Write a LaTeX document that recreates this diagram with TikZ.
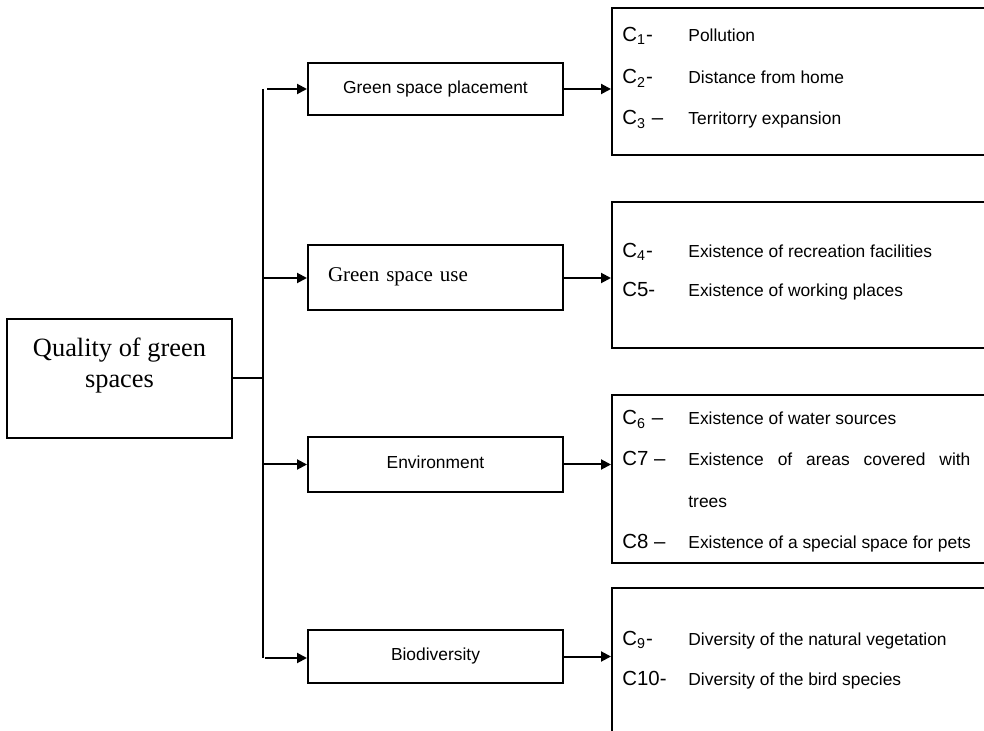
\documentclass[tikz,border=0pt]{standalone}
\usepackage{fontspec}
\setmainfont{Liberation Serif}
\setsansfont{Liberation Sans}
\usepackage{tikz}
\usetikzlibrary{arrows.meta, positioning}

\begin{document}
\begin{tikzpicture}[
    x=0.5pt, y=-0.5pt,
    rootbox/.style={draw,line width=1pt,minimum width=112.5pt,minimum height=59.5pt,
      align=center,font=\fontsize{13.2}{15.5}\selectfont},
    midbox/.style={draw,line width=1pt,minimum width=127.5pt,
      font=\sffamily\fontsize{8.7}{10.4}\selectfont},
    listbox/.style={draw,line width=1pt,anchor=north west,minimum width=190pt},
    item/.style={anchor=base west,inner sep=0pt,font=\sffamily\fontsize{8.7}{10.4}\selectfont},
    clabel/.style={item,font=\sffamily\fontsize{10.2}{12}\selectfont},
    link/.style={line width=1pt},
    arrow/.style={-{Triangle[length=5pt,width=5pt]},line width=1pt}
  ]
  \useasboundingbox (0,0) rectangle (984,731);
  \clip (0,0) rectangle (984,731);

  % Root
  \node[rootbox] (root) at (119.5,378.5) {Quality of green\\spaces\\\mbox{}};

  % Criteria
  \node[midbox,minimum height=26pt] (place) at (435.5,89) {Green space placement};
  \node[midbox,minimum height=32.5pt,text width=107.5pt,inner xsep=10pt,align=left,
    font=\fontsize{10.5}{12.5}\selectfont] (use) at (435.5,278) {\raisebox{3pt}{Green space use}};
  \node[midbox,minimum height=27.5pt] (env) at (435.5,464.5) {\raisebox{2pt}{Environment}};
  \node[midbox,minimum height=26.5pt] (bio) at (435.5,656.5) {\raisebox{2pt}{Biodiversity}};

  % Sub-criteria boxes
  \node[listbox,minimum height=73.5pt] (lplace) at (611,7) {};
  \node[listbox,minimum height=73pt] (luse) at (611,201) {};
  \node[listbox,minimum height=84pt] (lenv) at (611,394) {};
  \node[listbox,minimum height=80pt] (lbio) at (611,587) {};

  % Trunk
  \coordinate (ttop) at (263,89);
  \coordinate (tbot) at (263,658);
  \draw[link] (ttop) -- (tbot);
  \draw[link] (root.east) -- (ttop |- root.east);

  \draw[arrow] ([xshift=2pt]ttop) -- (place.west);
  \draw[arrow] (ttop |- use.west) -- (use.west);
  \draw[arrow] (ttop |- env.west) -- (env.west);
  \draw[arrow] ([xshift=1pt]tbot) -- (bio.west |- tbot);

  \draw[arrow] (place.east) -- (lplace.west |- place.east);
  \draw[arrow] (use.east) -- (luse.west |- use.east);
  \draw[arrow] (env.east) -- (lenv.west |- env.east);
  \draw[arrow] (bio.east) -- (lbio.west |- bio.east);

  % C1 - C3
  \node[clabel] (c1) at (622,42) {C\textsubscript{1}-};
  \node[item] (t1) at (688,42) {Pollution};
  \node[clabel] (c2) at (622,84) {C\textsubscript{2}-};
  \node[item] (t2) at (688,84) {Distance from home};
  \node[clabel] (c3) at (622,125) {C\textsubscript{3} –};
  \node[item] (t3) at (688,125) {Territorry expansion};

  % C4 - C5
  \node[clabel] (c4) at (622,258) {C\textsubscript{4}-};
  \node[item] (t4) at (688,258) {Existence of recreation facilities};
  \node[clabel] (c5) at (622,297) {C5-};
  \node[item] (t5) at (688,297) {Existence of working places};

  % C6 - C8
  \node[clabel] (c6) at (622,425) {C\textsubscript{6} –};
  \node[item] (t6) at (688,425) {Existence of water sources};
  \node[clabel] (c7) at (622,466) {C7 –};
  \node[item] (t7) at (688,466) {\makebox[141pt][s]{Existence of areas covered with}};
  \node[item] (t7b) at (688,507) {trees};
  \node[clabel] (c8) at (622,548) {C8 –};
  \node[item] (t8) at (688,548) {Existence of a special space for pets};

  % C9 - C10
  \node[clabel] (c9) at (622,645) {C\textsubscript{9}-};
  \node[item] (t9) at (688,645) {Diversity of the natural vegetation};
  \node[clabel] (c10) at (622,685) {C10-};
  \node[item] (t10) at (688,685) {Diversity of the bird species};

\end{tikzpicture}
\end{document}
